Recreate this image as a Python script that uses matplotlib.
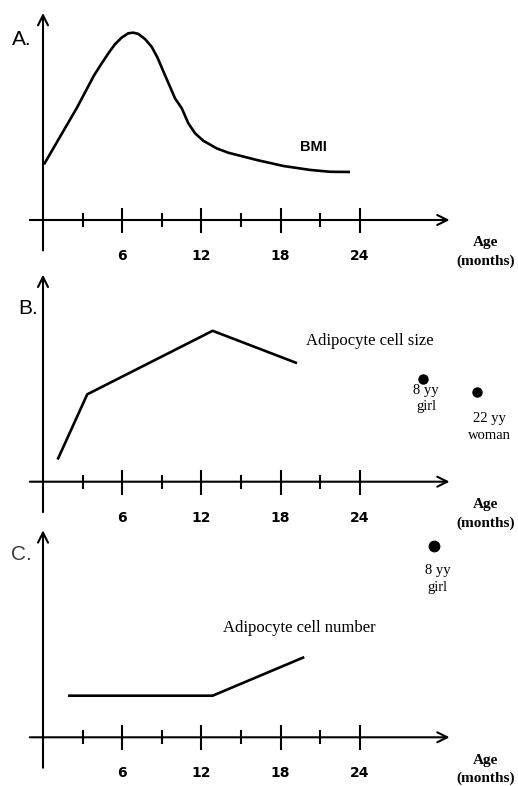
import matplotlib
matplotlib.use("Agg")
import matplotlib.pyplot as plt

bmi_age = [0.08, 1.29, 2.55, 3.86, 4.45, 4.95, 5.45, 5.96, 6.46, 6.84, 7.22,
           7.73, 8.23, 8.67, 9.13, 9.62, 10.0, 10.51, 11.01, 11.52, 12.14,
           13.16, 14.04, 16.19, 18.2, 20.23, 21.74, 23.26]
bmi_val = [26.9, 40.2, 54.0, 69.8, 75.7, 80.5, 84.9, 88.1, 90.2, 90.5, 89.9,
           87.4, 83.7, 78.5, 71.6, 64.4, 58.8, 54.0, 46.7, 41.9, 38.3,
           34.6, 32.5, 29.0, 26.1, 24.2, 23.3, 23.2]

size_age = [1.15, 3.35, 12.85, 19.15]
size_val = [11.3, 42.2, 72.9, 57.5]
size_ref_age = [28.8, 32.85]
size_ref_val = [49.5, 43.5]
size_ref_labels = ["8 yy\ngirl", "22 yy\nwoman"]

number_age = [2.0, 12.85, 19.7]
number_val = [20.1, 20.1, 38.5]
number_ref_age = [29.6]
number_ref_val = [92.6]
number_ref_labels = ["8 yy\ngirl"]

major_ticks = [6, 12, 18, 24]
minor_ticks = [3, 9, 15, 21]

W, H = 518, 786
PX_MONTH = 13.2   # pixels per month
PX_UNIT = 2.07    # pixels per y unit
Y_AXIS_PX = 43

SERIF = "Liberation Serif"
SANS = "Liberation Sans"


def make_panel(fig, top_px, bottom_px, zero_px, letter, letter_xy, letter_color="black"):
    """one panel: hand drawn looking axes crossing at the origin"""
    ax = fig.add_axes([0, 1 - bottom_px / H, 1, (bottom_px - top_px) / H])
    ax.set_xlim(-Y_AXIS_PX / PX_MONTH, (W - Y_AXIS_PX) / PX_MONTH)
    ax.set_ylim(-(bottom_px - zero_px) / PX_UNIT, (zero_px - top_px) / PX_UNIT)
    ax.patch.set_alpha(0)

    for s in ax.spines.values():
        s.set_visible(False)
    ax.spines["bottom"].set_position(("data", 0))
    ax.set_yticks([])
    ax.set_xticks(major_ticks, [str(t) for t in major_ticks])
    ax.set_xticks(minor_ticks, minor=True)
    ax.tick_params(axis="x", which="major", direction="inout", length=18, width=1.5,
                   pad=12, labelsize=10, labelfontfamily="DejaVu Sans")
    ax.tick_params(axis="x", which="minor", direction="inout", length=10, width=1.5)
    for lbl in ax.get_xticklabels():
        lbl.set_fontweight("bold")

    arrow = dict(arrowstyle="->", lw=1.5, color="black", shrinkA=0, shrinkB=0,
                 mutation_scale=18)
    ax.annotate("", xy=(30.8, 0), xytext=(-1.0, 0), arrowprops=arrow)
    ax.annotate("", xy=(0, 100), xytext=(0, -14.7), arrowprops=arrow)

    ax.text(33.5, -15.5, "Age\n(months)", ha="center", va="center", fontsize=11,
            fontweight="bold", family=SERIF, linespacing=1.5, clip_on=False)
    ax.text(letter_xy[0], letter_xy[1], letter, ha="center", va="center",
            fontsize=15, family=SANS, color=letter_color)
    return ax


fig = plt.figure(figsize=(W / 100, H / 100), dpi=100)

# A. BMI
axA = make_panel(fig, 0, 262, 220, "A.", (-1.59, 87.4))
axA.plot(bmi_age, bmi_val, color="black", lw=1.9, solid_joinstyle="round",
         solid_capstyle="butt")
axA.text(20.45, 35.4, "BMI", ha="center", va="center", fontsize=10.5,
         fontweight="bold", family=SANS)

# B. adipocyte cell size
axB = make_panel(fig, 262, 524, 481.7, "B.", (-1.14, 83.9))
axB.plot(size_age, size_val, color="black", lw=1.9)
axB.plot(size_ref_age, size_ref_val, "o", color="black", ms=6.5)
for x, y, lab, off in zip(size_ref_age, size_ref_val, size_ref_labels,
                          [(2, -14), (9, -25.5)]):
    axB.annotate(lab, (x, y), xytext=off, textcoords="offset points",
                 ha="center", va="center", fontsize=10.5, family=SERIF,
                 linespacing=1.35)
axB.text(19.92, 68.1, "Adipocyte cell size", ha="left", va="center",
         fontsize=12, family=SERIF)

# C. adipocyte cell number
axC = make_panel(fig, 524, 786, 737.3, "C.", (-1.61, 88.1), letter_color="#3c3c3c")
axC.plot(number_age, number_val, color="black", lw=1.9)
axC.plot(number_ref_age, number_ref_val, "o", color="black", ms=7.5)
for x, y, lab, off in zip(number_ref_age, number_ref_val, number_ref_labels,
                          [(3, -24)]):
    axC.annotate(lab, (x, y), xytext=off, textcoords="offset points",
                 ha="center", va="center", fontsize=10.5, family=SERIF,
                 linespacing=1.35)
axC.text(13.6, 52.7, "Adipocyte cell number", ha="left", va="center",
         fontsize=12, family=SERIF)

fig.savefig("out.png", dpi=100)
